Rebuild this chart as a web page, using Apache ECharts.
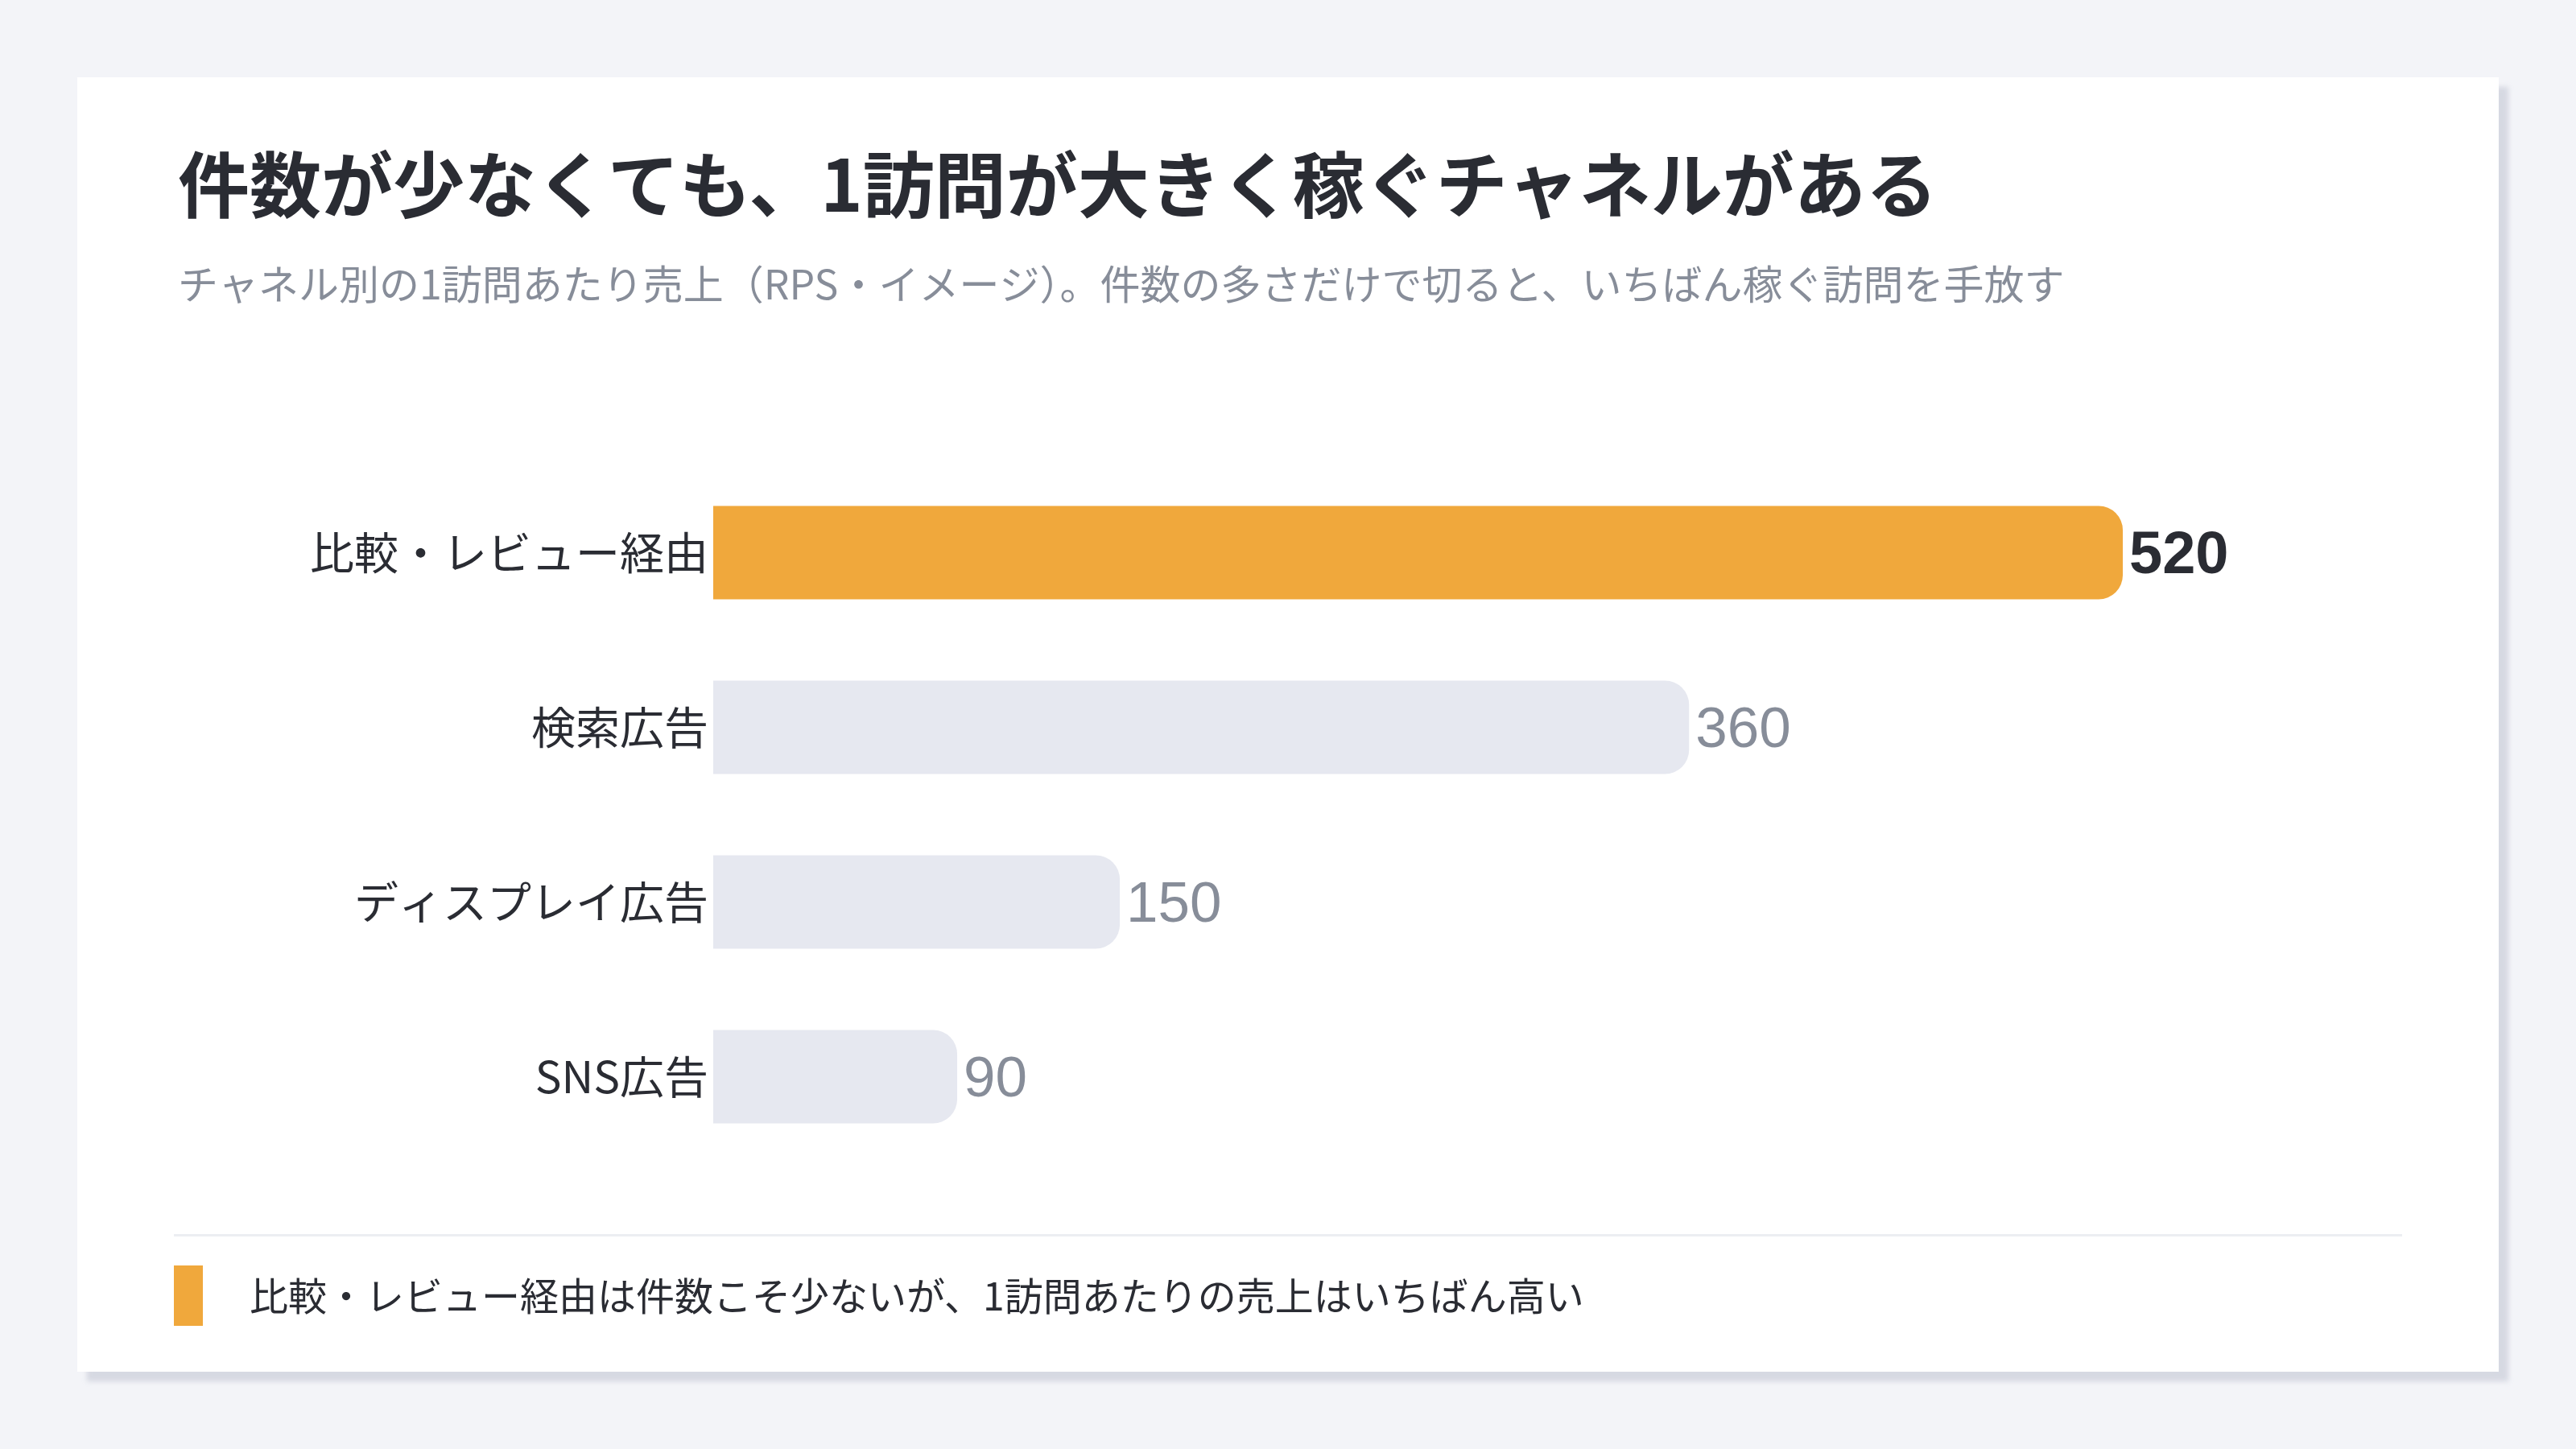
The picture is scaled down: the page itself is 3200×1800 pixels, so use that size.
<!DOCTYPE html>
<html>
<head>
<meta charset="utf-8">
<script src="https://cdn.jsdelivr.net/npm/echarts@6/dist/echarts.min.js"></script>
<style>
html,body{margin:0;padding:0;background:#f3f4f8;}
#chart{width:3200px;height:1800px;}
</style>
</head>
<body>
<div id="chart"></div>
<script>
const titleText = '件数が少なくても、1訪問が大きく稼ぐチャネルがある';
const subtitleText = 'チャネル別の1訪問あたり売上（RPS・イメージ）。件数の多さだけで切ると、いちばん稼ぐ訪問を手放す';
const footerText = '比較・レビュー経由は件数こそ少ないが、1訪問あたりの売上はいちばん高い';
const categories = ['比較・レビュー経由', '検索広告', 'ディスプレイ広告', 'SNS広告'];
const rpsValues = [520, 360, 150, 90];
const highlightIndex = 0;

const FONT = '"Noto Sans CJK JP", "Noto Sans", sans-serif';
const NUMFONT = '"Liberation Sans", Arial, sans-serif';
const chart = echarts.init(document.getElementById('chart'), null, {renderer: 'canvas'});

const option = {
  backgroundColor: '#f3f4f8',
  animation: false,
  title: {
    left: 216,
    top: 172,
    text: titleText,
    subtext: subtitleText,
    itemGap: 44,
    textStyle: {fontFamily: FONT, fontSize: 89, fontWeight: 'bold', color: '#2a2c33', lineHeight: 104},
    subtextStyle: {fontFamily: FONT, fontSize: 50, color: '#878d99', lineHeight: 56}
  },
  graphic: [
    {type: 'rect', z: -10, shape: {x: 96, y: 96, width: 3008, height: 1608},
     style: {fill: '#ffffff', shadowColor: 'rgba(160,166,185,0.35)', shadowBlur: 6, shadowOffsetX: 12, shadowOffsetY: 12}},
    {type: 'rect', shape: {x: 216, y: 1533, width: 2768, height: 3}, style: {fill: '#eceef2'}},
    {type: 'rect', shape: {x: 216, y: 1572, width: 36, height: 75}, style: {fill: '#f0a83c'}},
    {type: 'text', x: 310, y: 1610, style: {text: footerText, fontFamily: FONT, fontSize: 48, fill: '#2a2c33', verticalAlign: 'middle', align: 'left'}}
  ],
  grid: {left: 886, top: 578, width: 1751, height: 868, containLabel: false},
  xAxis: {
    type: 'value', min: 0, max: 520,
    show: false
  },
  yAxis: {
    type: 'category',
    data: categories,
    inverse: true,
    axisLine: {show: false},
    axisTick: {show: false},
    axisLabel: {fontFamily: FONT, fontSize: 55, color: '#2a2c33', margin: 6}
  },
  series: [{
    type: 'bar',
    barWidth: 116,
    data: rpsValues.map((v, i) => ({
      value: v,
      itemStyle: {color: i === highlightIndex ? '#f0a83c' : '#e6e8f0', borderRadius: [0, 30, 30, 0]},
      label: {
        show: true, position: 'right', distance: 8, offset: [0, 5],
        fontFamily: NUMFONT,
        fontSize: i === highlightIndex ? 74 : 71,
        fontWeight: i === highlightIndex ? 'bold' : 'normal',
        color: i === highlightIndex ? '#2a2c33' : '#878d99'
      }
    }))
  }]
};
chart.setOption(option);
</script>
</body>
</html>
